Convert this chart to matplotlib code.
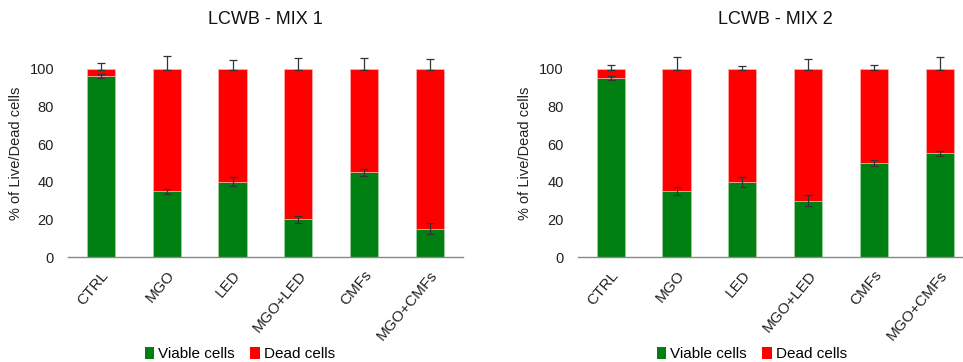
import matplotlib
matplotlib.use("Agg")
import matplotlib.pyplot as plt
from matplotlib.patches import Patch
import numpy as np

plt.rcParams['font.family'] = ['Liberation Sans', 'DejaVu Sans']

categories = ["CTRL", "MGO", "LED", "MGO+LED", "CMFs", "MGO+CMFs"]

mix1_viable = [96, 35, 40, 20, 45, 15]
mix1_viable_err = [1.0, 1.3, 2.5, 1.8, 2.0, 3.0]
mix1_dead_err_up = [3.3, 6.7, 4.7, 5.8, 5.8, 5.1]

mix2_viable = [95, 35, 40, 30, 50, 55]
mix2_viable_err = [1.0, 2.2, 2.7, 3.0, 1.5, 1.5]
mix2_dead_err_up = [2.0, 6.1, 1.6, 5.2, 1.8, 6.1]

titles = ["LCWB - MIX 1", "LCWB - MIX 2"]
legend_labels = ["Viable cells", "Dead cells"]

GREEN = "#008012"
RED = "#FF0000"
ERR = "#333333"

W, H = 963, 362
fig = plt.figure(figsize=(W / 100, H / 100), dpi=100)
axes_pos = [[0.0706, 0.290, 0.410, 0.572], [0.600, 0.290, 0.410, 0.572]]
title_x = [265, 775]

datasets = [(mix1_viable, mix1_viable_err, mix1_dead_err_up),
            (mix2_viable, mix2_viable_err, mix2_dead_err_up)]

for pos, title, tx, (viable, verr, derr) in zip(axes_pos, titles, title_x, datasets):
    ax = fig.add_axes(pos)
    x = np.arange(len(categories))
    viable = np.array(viable, dtype=float)
    dead = 100 - viable
    ax.bar(x, viable, width=0.43, color=GREEN, edgecolor="#9fd3a0", linewidth=0.5, zorder=2)
    ax.bar(x, dead, bottom=viable, width=0.43, color=RED, edgecolor="#ffb0b0", linewidth=0.5, zorder=2)
    ax.errorbar(x, viable, yerr=verr, fmt='none', ecolor=ERR, elinewidth=0.9, capsize=3, capthick=0.9, zorder=3)
    ax.errorbar(x, viable + dead, yerr=[[0.7] * len(x), derr], fmt='none', ecolor=ERR,
                elinewidth=0.9, capsize=3, capthick=0.9, zorder=3)
    ax.set_xlim(-0.5, len(categories) - 0.5)
    ax.set_ylim(0, 110)
    ax.set_yticks([0, 20, 40, 60, 80, 100])
    ax.set_xticks(x)
    ax.set_xticklabels(categories, rotation=50, ha='right', rotation_mode='anchor', fontsize=11, color="#222222")
    ax.tick_params(axis='y', length=0, labelsize=10.5, colors="#222222", pad=10)
    ax.tick_params(axis='x', length=0, pad=8)
    for s in ['top', 'right', 'left']:
        ax.spines[s].set_visible(False)
    ax.spines['bottom'].set_color("#888888")
    ax.spines['bottom'].set_linewidth(1.0)
    ax.set_ylabel("% of Live/Dead cells", fontsize=10.5, color="#222222", labelpad=5)
    fig.text(tx / W, 1 - 20 / H, title, fontsize=13, color="#111111", ha='center', va='center')

handles = [Patch(facecolor=GREEN), Patch(facecolor=RED)]
for cx in [240 / W, 752 / W]:
    fig.legend(handles, legend_labels, loc='center', bbox_to_anchor=(cx, 1 - 354 / H), ncol=2,
               frameon=False, fontsize=11, handlelength=0.6, handleheight=0.9,
               handletextpad=0.3, columnspacing=1.0)

fig.savefig("out.png", dpi=100)
